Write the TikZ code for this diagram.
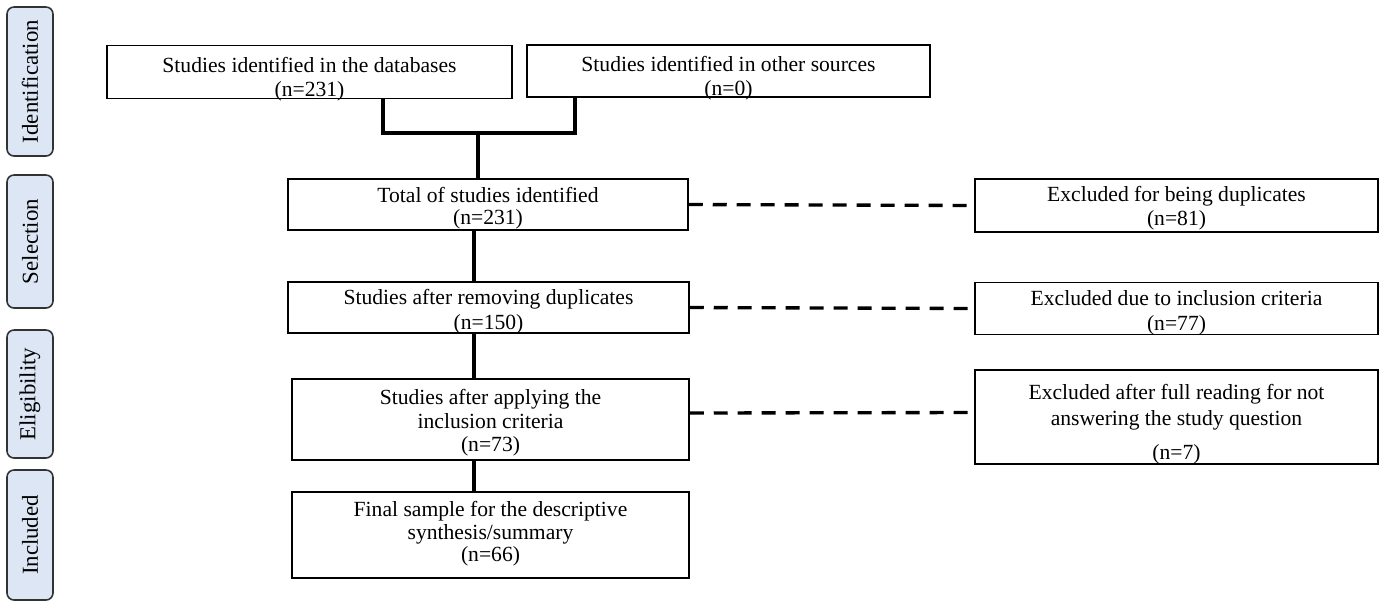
\documentclass[tikz,border=0pt]{standalone}
\usepackage{fontspec}
\setmainfont{Liberation Serif}
\usetikzlibrary{calc}
\definecolor{phaseblue}{HTML}{DCE6F4}
\def\topgap#1{\rule{0pt}{#1}}

\begin{document}
\begin{tikzpicture}[x=0.02cm, y=-0.02cm,
		boxsize/.style 2 args={minimum width=#1*0.02cm, minimum height=#2*0.02cm},
		studybox/.style={draw=black, line width=0.85pt, align=center, inner xsep=2pt, inner ysep=0pt, text depth=0pt, font=\fontsize{12.3}{12.5}\selectfont},
		phasebox/.style={draw=black!80, line width=0.9pt, fill=phaseblue, rounded corners=4pt, rotate=90, font=\fontsize{13}{13}\selectfont},
		link/.style={line width=1.9pt},
		dashlink/.style={line width=1.9pt, dash pattern=on 0.28cm off 0.2cm}]
			%%%%% START %%%%%
			\useasboundingbox (0, 0) rectangle (1386, 610);
			
			\node[phasebox, boxsize={149}{46}] (ident) at (30, 81.5) {Identification};
			\node[phasebox, boxsize={133}{46}] (select) at (30, 241.5) {Selection};
			\node[phasebox, boxsize={128}{46}] (elig) at (30, 394) {Eligibility};
			\node[phasebox, boxsize={130}{46}] (incl) at (30, 535) {Included};
			
			\node[studybox, boxsize={405}{53}] (db) at (309.5, 72) {\topgap{14.2pt}Studies identified in the databases\\[1.7pt](n=231)};
			\node[studybox, boxsize={403}{52}] (other) at (728.5, 71) {\topgap{14.2pt}Studies identified in other sources\\[1.7pt](n=0)};
			
			\node[studybox, boxsize={400}{51}] (total) at (488, 204.5) {\topgap{9.7pt}Total of studies identified\\(n=231)};
			\node[studybox, boxsize={401}{51}] (nodup) at (488.5, 307.5) {\topgap{10.8pt}Studies after removing duplicates\\[1.2pt](n=150)};
			\node[studybox, boxsize={397}{81}] (incrit) at (490.5, 419.5) {\topgap{9.4pt}Studies after applying the\\[1.4pt]inclusion criteria\\[0.6pt](n=73)};
			\node[studybox, boxsize={397}{86}, text depth=4.6pt] (final) at (490.5, 535) {\topgap{8.6pt}Final sample for the descriptive\\[0.6pt]synthesis/summary\\(n=66)};
			
			\node[studybox, boxsize={403}{53}] (exdup) at (1176.5, 205.5) {\topgap{9.6pt}Excluded for being duplicates\\[1.2pt](n=81)};
			\node[studybox, boxsize={403}{52}] (excrit) at (1176.5, 308.5) {\topgap{10.8pt}Excluded due to inclusion criteria\\[1.2pt](n=77)};
			\node[studybox, boxsize={403}{94}] (exread) at (1176.5, 417) {\topgap{14.2pt}Excluded after full reading for not\\[2.3pt]answering the study question\\[7.4pt](n=7)};
			
			% merge of the two sources
			\coordinate (jleft) at (383, 133);
			\coordinate (jright) at (575, 133);
			\coordinate (jmid) at (478, 133);
			\coordinate (spine) at (474, 0);
			\draw[link] (db.south -| jleft) -- (jleft) -- (jright) -- (other.south -| jright);
			\draw[link] (jmid) -- (total.north -| jmid);
			
			\draw[link] (total.south -| spine) -- (nodup.north -| spine);
			\draw[link] (nodup.south -| spine) -- (incrit.north -| spine);
			\draw[link] (incrit.south -| spine) -- (final.north -| spine);
			
			\draw[dashlink] (total.east) -- (exdup.west);
			\draw[dashlink] (nodup.east) -- (excrit.west);
			\draw[dashlink] ([yshift=0.13cm]incrit.east) -- ([yshift=0.09cm]exread.west);
			%%%%% END %%%%%
		\end{tikzpicture}
\end{document}
